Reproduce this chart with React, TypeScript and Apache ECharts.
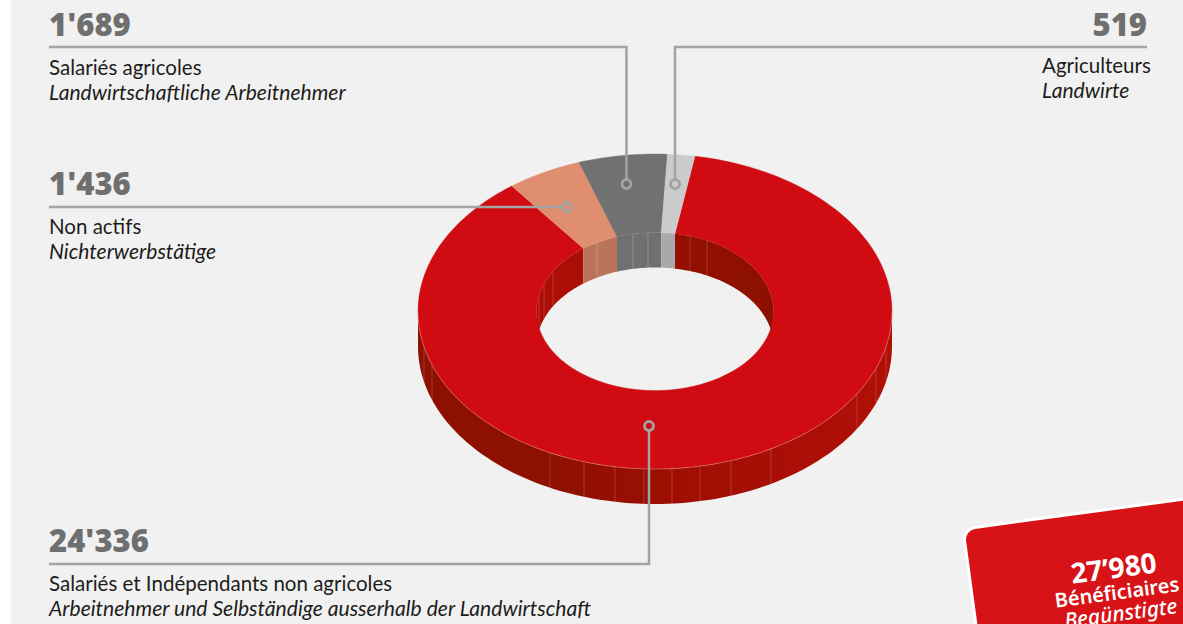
import React, { useEffect, useRef } from "react";
import * as echarts from "echarts";

const categories = ["Salariés et Indépendants non agricoles", "Non actifs", "Salariés agricoles", "Agriculteurs"];
const germanNames = ["Arbeitnehmer und Selbständige ausserhalb der Landwirtschaft", "Nichterwerbstätige", "Landwirtschaftliche Arbeitnehmer", "Landwirte"];
const values = [24336, 1436, 1689, 519];
const valueLabels = ["24'336", "1'436", "1'689", "519"];
const topColors = ["#d00c12", "#e08e70", "#717171", "#cbcccb"];
const innerWallFills = ["red", "#b97459", "#707070", "#a8a9a8"];
const totalLabel = "27’980";
const totalFr = "Bénéficiaires";
const totalDe = "Begünstigte";

// facet seams on the extruded walls, by horizontal page position
const outerSeamX = [424, 432, 550, 584, 615, 644, 672, 700, 731, 771, 857, 876, 886];
const innerSeamX = [539, 544, 553, 597, 633, 648, 690, 707];

const CX = 655, CY = 311.5, RX = 237, RY = 157.5, IRX = 118.5, IRY = 79, DEPTH = 35;
const START = 9.7;
const total = values.reduce((a, b) => a + b, 0);
const rad = (d: number) => (d * Math.PI) / 180;
const deg = (r: number) => (r * 180) / Math.PI;
const px = (rx: number, d: number) => CX + rx * Math.sin(rad(d));
const py = (ry: number, d: number, dy = 0) => CY - ry * Math.cos(rad(d)) + dy;

const outerGradient = new echarts.graphic.LinearGradient(418, 0, 892, 0, [
  { offset: 0, color: "#8e1000" },
  { offset: 0.3, color: "#8e1000" },
  { offset: 0.55, color: "#9e0f02" },
  { offset: 0.8, color: "#ab0e06" },
  { offset: 1, color: "#b01006" },
], true);
const innerGradient = new echarts.graphic.LinearGradient(536, 0, 773, 0, [
  { offset: 0, color: "#ad0e06" },
  { offset: 0.2, color: "#ab0e06" },
  { offset: 0.6, color: "#931000" },
  { offset: 1, color: "#8c1000" },
], true);

function arcPts(rx: number, ry: number, a: number, b: number, dy = 0) {
  const n = Math.max(2, Math.ceil(Math.abs(b - a) / 1.5));
  const pts: number[][] = [];
  for (let i = 0; i <= n; i++) {
    const d = a + ((b - a) * i) / n;
    pts.push([px(rx, d), py(ry, d, dy)]);
  }
  return pts;
}

function overlap(a: number, b: number, lo: number, hi: number): number[][] {
  const res: number[][] = [];
  for (const k of [-360, 0, 360]) {
    const s = Math.max(a, lo + k);
    const e = Math.min(b, hi + k);
    if (e > s) res.push([s, e]);
  }
  return res;
}
function inRange(d: number, a: number, b: number) {
  return [d, d + 360, d - 360].some((v) => v >= a && v <= b);
}

function renderItem(params: any, api: any) {
  const i = params.dataIndex;
  let before = 0;
  for (let k = 0; k < i; k++) before += values[k];
  const a = START + (before / total) * 360;
  const b = a + (api.value(0) / total) * 360;
  const children: any[] = [];
  const seam = (x: number, y: number, o: number) =>
    children.push({
      type: "line",
      shape: { x1: x, y1: y, x2: x, y2: y + DEPTH },
      style: { stroke: `rgba(255,255,255,${o})`, lineWidth: 0.8 },
    });

  // inner wall: only the far half of the hole can be seen
  overlap(a, b, -90, 90).forEach(([s, e]) => {
    const fill = innerWallFills[i] === "red" ? innerGradient : innerWallFills[i];
    children.push({
      type: "polygon",
      shape: { points: [...arcPts(IRX, IRY, s, e), ...arcPts(IRX, IRY, e, s, DEPTH)] },
      style: { fill },
    });
  });
  innerSeamX.forEach((x) => {
    const d = deg(Math.asin((x - CX) / IRX));
    if (inRange(d, a, b)) seam(x, py(IRY, d), i === 0 ? 0.22 : 0.28);
  });
  // outer wall: only the near half can be seen
  overlap(a, b, 90, 270).forEach(([s, e]) => {
    children.push({
      type: "polygon",
      shape: { points: [...arcPts(RX, RY, s, e), ...arcPts(RX, RY, e, s, DEPTH)] },
      style: { fill: outerGradient },
    });
  });
  if (i === 0) {
    outerSeamX.forEach((x) => {
      const d = 180 - deg(Math.asin((x - CX) / RX));
      seam(x, py(RY, d), 0.22);
    });
  }
  // top face
  children.push({
    type: "polygon",
    shape: { points: [...arcPts(RX, RY, a, b), ...arcPts(IRX, IRY, b, a)] },
    style: { fill: topColors[i], stroke: topColors[i], lineWidth: 0.4 },
  });
  if (i === 0) {
    children.push({
      type: "polyline",
      shape: { points: arcPts(RX, RY, 90, 270) },
      style: { stroke: "rgba(255,255,255,0.3)", lineWidth: 0.8, fill: "none" },
    });
  }
  return { type: "group", children };
}

const LEAD = "#a3a3a3";
const NUM = "#6f6f6f";
const FONT = "Lato, 'Noto Sans', sans-serif";
const NUM_FONT = "'Noto Sans', sans-serif";
const BADGE_FONT = "'Noto Sans', sans-serif";

function label(x: number, yNum: number, yFr: number, yDe: number, i: number, numX = x, numAlign = "left") {
  const base = { x, textAlign: "left", textVerticalAlign: "middle", fontFamily: FONT };
  return [
    { type: "text", z: 20, style: { x: numX, textAlign: numAlign, textVerticalAlign: "middle", fontFamily: NUM_FONT, y: yNum, text: valueLabels[i], fontSize: 31, fontWeight: 900, fill: NUM } },
    { type: "text", z: 20, style: { ...base, y: yFr - 1, text: categories[i], fontSize: 20.5, fill: "#1d1d1b" } },
    { type: "text", z: 20, style: { ...base, y: yDe - 1, text: germanNames[i], fontSize: 21.1, fontStyle: "italic", fill: "#1d1d1b" } },
  ];
}
function leader(points: number[][], ring: number[]) {
  return [
    { type: "polyline", z: 15, shape: { points }, style: { stroke: LEAD, lineWidth: 2.5, fill: "none" } },
    { type: "circle", z: 16, shape: { cx: ring[0], cy: ring[1], r: 4.5 }, style: { stroke: LEAD, lineWidth: 2.8, fill: "none" } },
  ];
}

export default function App() {
  const ref = useRef<HTMLDivElement>(null);
  useEffect(() => {
    document.body.style.margin = "0";
    const chart = echarts.init(ref.current!, undefined, { renderer: "svg" });
    const badgeText = (text: string, x: number, y: number, extra: any) => ({
      type: "text",
      style: { x, y, text, textAlign: "center", textVerticalAlign: "middle", fontFamily: BADGE_FONT, fill: "#fff", ...extra },
    });
    chart.setOption({
      animation: false,
      backgroundColor: "#ffffff",
      series: [
        { type: "custom", coordinateSystem: "none", renderItem, data: values.map((v) => [v]), clip: false, z: 5 },
      ],
      graphic: [
        { type: "rect", z: -10, silent: true, shape: { x: 11, y: 0, width: 1172, height: 624 }, style: { fill: "#f1f1f1" } },
        ...leader([[49, 47], [626.5, 47], [626.5, 179]], [626.5, 184]),
        ...leader([[1147, 47], [675, 47], [675, 179]], [675, 184]),
        ...leader([[49, 207], [562, 207]], [567, 207]),
        ...leader([[49, 564], [649, 564], [649, 431]], [649, 426]),
        ...label(49, 24, 68, 92, 2),
        ...label(49, 183, 227, 251, 1),
        ...label(49, 540, 584, 608, 0),
        ...label(1042, 24, 66, 90, 3, 1147, "right"),
        {
          type: "group",
          z: 30,
          x: 963,
          y: 529,
          rotation: rad(7.7),
          children: [
            { type: "rect", shape: { x: 0, y: 0, width: 320, height: 200, r: 12 }, style: { fill: "#d81318", stroke: "#ffffff", lineWidth: 3 } },
            badgeText(totalLabel, 144, 58, { fontSize: 28, fontWeight: "bold" }),
            badgeText(totalFr, 144, 83, { fontSize: 20, fontWeight: 600 }),
            badgeText(totalDe, 145, 104, { fontSize: 21, fontWeight: 500, fontStyle: "italic" }),
          ],
        },
      ],
    });
    return () => chart.dispose();
  }, []);
  return <div ref={ref} style={{ position: "fixed", left: 0, top: 0, width: 1183, height: 624, overflow: "hidden" }} />;
}
